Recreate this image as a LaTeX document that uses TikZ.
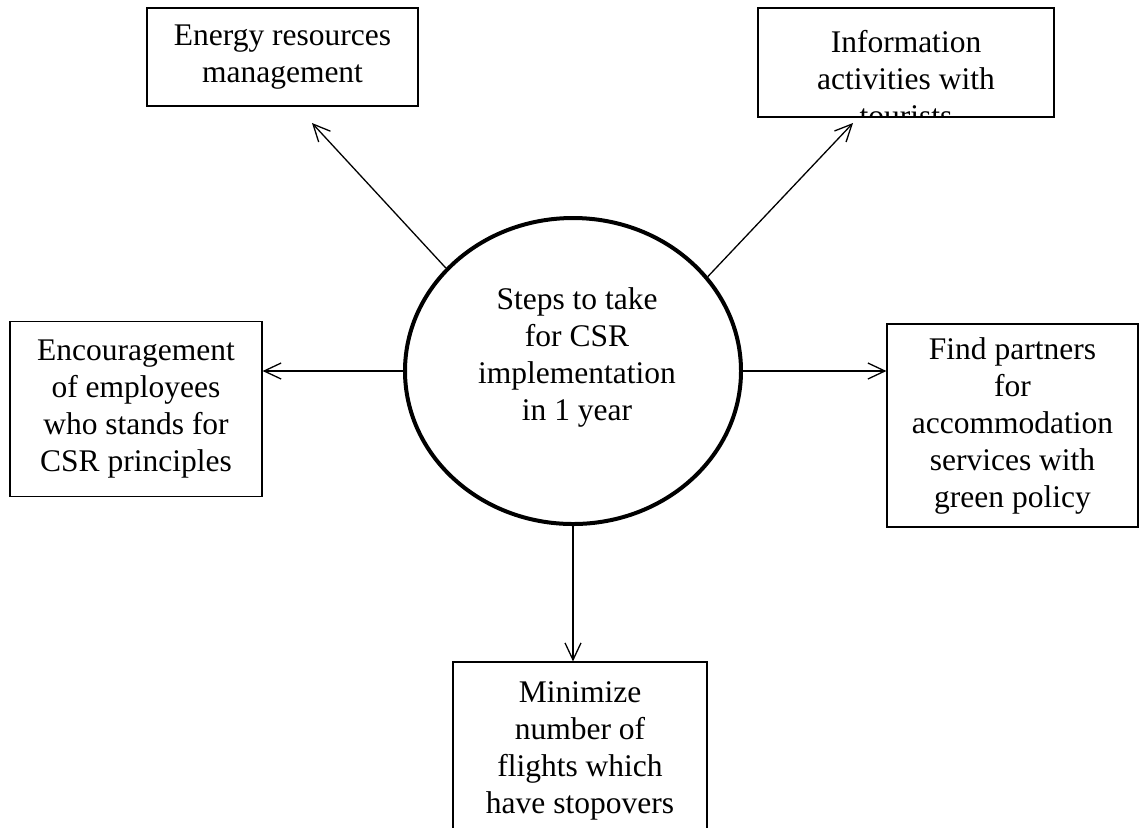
\documentclass[tikz,border=0pt]{standalone}
\usepackage{fontspec}
\setmainfont{Liberation Serif}
\usetikzlibrary{shapes.geometric,arrows.meta}

\begin{document}
\begin{tikzpicture}[x=0.5pt,y=-0.5pt]

      \clip (0,0) rectangle (1139,827);

      \begin{scope}[every node/.style={draw,line width=0.6pt,align=center,inner sep=0pt,
          font=\fontsize{15.75}{18.5}\selectfont}]
        \node (energy)  at (282.5,57)   [minimum width=135.5pt,minimum height=49pt] {Energy resources\\management};
        \node (info)    at (906,62.5)   [minimum width=148pt,minimum height=54.5pt,
          path picture={\node[draw=none] at ([yshift=-8pt]path picture bounding box.center)
            {Information\\activities with\\tourists};}] {};
        \node (enc)     at (136,409)    [minimum width=126pt,minimum height=87.5pt] {Encouragement\\of employees\\who stands for\\CSR principles};
        \node (find)    at (1012.5,425.5) [minimum width=125.5pt,minimum height=101.5pt] {Find partners\\for\\accommodation\\services with\\green policy};
        \node (flights) at (580,750.5)  [minimum width=127pt,minimum height=88.5pt] {Minimize\\number of\\flights which\\have stopovers};
        \node (hub)     at (573,371)    [ellipse,line width=2pt,minimum width=168pt,minimum height=153pt] {};
        \node (hubtext) at (577,357)    [draw=none] {Steps to take\\for CSR\\implementation\\in 1 year};
      \end{scope}

      \coordinate (energytip) at (312,123);
      \coordinate (infotip)   at (853,123);

      \begin{scope}[every edge/.style={draw,line width=0.65pt,-{Straight Barb[length=8.5pt,width=8pt]}}]
        \path (hub.141)   edge (energytip);
        \path (hub.35.5)  edge (infotip);
        \path (hub.west)  edge (hub.west -| enc.east);
        \path (hub.east)  edge (hub.east -| find.west);
        \path (hub.south) edge (hub.south |- flights.north);
      \end{scope}

    \end{tikzpicture}
\end{document}
